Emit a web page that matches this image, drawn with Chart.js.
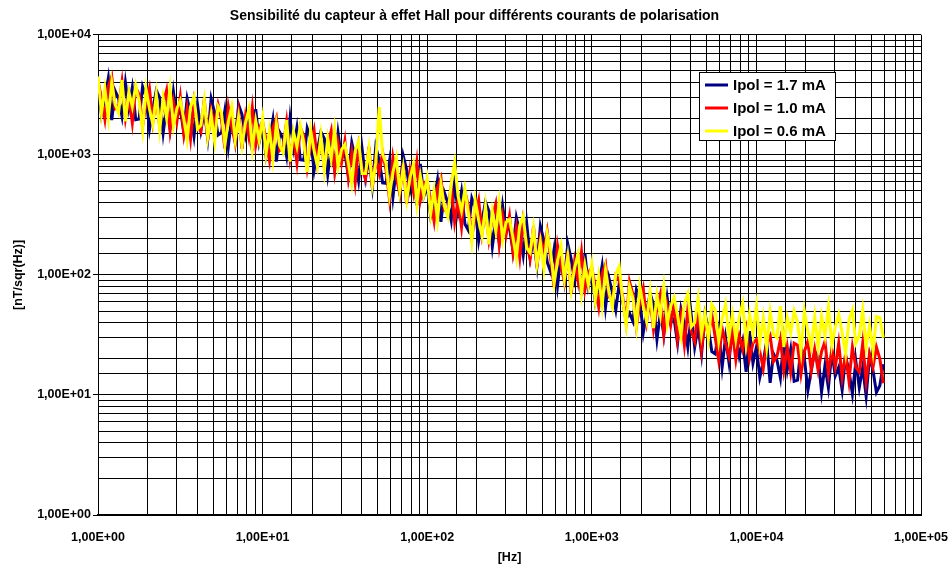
<!DOCTYPE html>
<html>
<head>
<meta charset="utf-8">
<script src="https://cdn.jsdelivr.net/npm/chart.js@4/dist/chart.umd.min.js"></script>
<style>
  body { margin: 0; background: #fff; }
  #wrap { width: 949px; height: 569px; }
</style>
</head>
<body>
<div id="wrap"><canvas id="myChart" width="949" height="569"></canvas></div>
<script>
// frequencies [Hz]
var freqs = [
  1, 1.049, 1.101, 1.155, 1.212, 1.271, 1.334, 1.399, 1.468, 1.54, 1.616, 1.695, 1.778, 1.866, 1.957, 2.054,
  2.154, 2.26, 2.371, 2.488, 2.61, 2.738, 2.873, 3.014, 3.162, 3.318, 3.481, 3.652, 3.831, 4.02, 4.217, 4.424,
  4.642, 4.87, 5.109, 5.36, 5.623, 5.9, 6.19, 6.494, 6.813, 7.148, 7.499, 7.867, 8.254, 8.66, 9.085, 9.532,
  10, 10.49, 11.01, 11.55, 12.12, 12.71, 13.34, 13.99, 14.68, 15.4, 16.16, 16.95, 17.78, 18.66, 19.57, 20.54,
  21.54, 22.6, 23.71, 24.88, 26.1, 27.38, 28.73, 30.14, 31.62, 33.18, 34.81, 36.52, 38.31, 40.2, 42.17, 44.24,
  46.42, 48.7, 51.09, 53.6, 56.23, 59, 61.9, 64.94, 68.13, 71.48, 74.99, 78.67, 82.54, 86.6, 90.85, 95.32,
  100, 104.9, 110.1, 115.5, 121.2, 127.1, 133.4, 139.9, 146.8, 154, 161.6, 169.5, 177.8, 186.6, 195.7, 205.4,
  215.4, 226, 237.1, 248.8, 261, 273.8, 287.3, 301.4, 316.2, 331.8, 348.1, 365.2, 383.1, 402, 421.7, 442.4,
  464.2, 487, 510.9, 536, 562.3, 590, 619, 649.4, 681.3, 714.8, 749.9, 786.7, 825.4, 866, 908.5, 953.2,
  1000, 1049, 1101, 1155, 1212, 1271, 1334, 1399, 1468, 1540, 1616, 1695, 1778, 1866, 1957, 2054,
  2154, 2260, 2371, 2488, 2610, 2738, 2873, 3014, 3162, 3318, 3481, 3652, 3831, 4020, 4217, 4424,
  4642, 4870, 5109, 5360, 5623, 5900, 6190, 6494, 6813, 7148, 7499, 7867, 8254, 8660, 9085, 9532,
  10000, 10490, 11010, 11550, 12120, 12710, 13340, 13990, 14680, 15400, 16160, 16950, 17780, 18660, 19570, 20540,
  21540, 22600, 23710, 24880, 26100, 27380, 28730, 30140, 31620, 33180, 34810, 36520, 38310, 40200, 42170, 44240,
  46420, 48700, 51090, 53600, 56230, 59000
];

// nT/sqrt(Hz), Ipol = 1.7 mA
var ipol17 = [
  3880, 2170, 2950, 4340, 1950, 3410, 2940, 2100, 4000, 2460, 3640, 1960,
  1990, 3700, 3060, 1630, 2420, 3440, 2990, 1520, 2530, 1660, 3340, 2070,
  2420, 1550, 2940, 2210, 1430, 2630, 1600, 2340, 1370, 2930, 2240, 1460,
  1530, 2340, 1170, 2070, 1300, 2610, 2160, 1440, 1920, 1090, 2400, 1280,
  1750, 980, 1330, 1960, 880, 1540, 1370, 975, 2020, 1140, 1690, 910,
  900, 1670, 1380, 740, 1090, 1550, 1370, 690, 1160, 760, 1520, 945,
  1040, 665, 1260, 945, 610, 1125, 640, 935, 545, 1170, 900, 585,
  580, 885, 440, 780, 490, 985, 755, 505, 670, 380, 840, 450,
  550, 310, 420, 615, 277, 485, 400, 285, 590, 335, 495, 265,
  235, 435, 360, 192, 285, 405, 340, 172, 285, 187, 375, 235,
  247, 160, 300, 225, 146, 270, 140, 205, 119, 255, 195, 128,
  106, 163, 81, 144, 90, 181, 135, 90, 120, 68, 150, 80,
  106, 60, 81, 119, 54, 94, 71, 51, 85, 60, 43, 48,
  41, 75, 62, 33, 49, 70, 57, 29, 48, 32, 64, 40,
  43, 27, 52, 39, 25, 46, 25, 37, 22, 47, 36, 23,
  22, 34, 17, 30, 18.7, 38, 31, 21, 28, 15.6, 34, 18.4,
  25, 14, 19, 28, 12.6, 22, 19.4, 13.9, 29, 16.3, 24, 13,
  13.3, 25, 20, 10.9, 16, 23, 21, 10.6, 17.6, 11.5, 23, 14.4,
  17, 11, 21, 15.8, 10.2, 19, 11.5, 17, 9.8, 21, 16, 10.5,
  12, 18
];

// Ipol = 1.0 mA
var ipol10 = [
  4190, 2950, 1980, 3720, 4500, 2420, 2520, 4060, 2020, 3080, 1850, 3640,
  3190, 1730, 2680, 3570, 1890, 2930, 1730, 2650, 3450, 1610, 2760, 1890,
  3050, 1510, 2420, 1370, 2730, 1790, 1560, 2930, 1330, 2340, 1760, 2630,
  1980, 1130, 2520, 1710, 1260, 2250, 1120, 2080, 1410, 2480, 1200, 1680,
  1890, 1330, 900, 1680, 2030, 1090, 1170, 1890, 940, 1430, 860, 1690,
  1440, 780, 1210, 1610, 850, 1320, 790, 1210, 1580, 735, 1260, 860,
  1300, 650, 1040, 585, 1170, 765, 625, 1170, 530, 935, 700, 1050,
  750, 430, 950, 645, 475, 850, 390, 730, 490, 870, 420, 590,
  595, 420, 280, 530, 640, 345, 340, 550, 275, 420, 250, 495,
  375, 205, 315, 420, 220, 345, 195, 300, 390, 180, 310, 215,
  310, 155, 245, 140, 280, 183, 136, 255, 116, 205, 153, 230,
  138, 79, 175, 119, 88, 156, 70, 130, 88, 155, 75, 105,
  115, 81, 54, 102, 123, 66, 61, 99, 90, 66, 40, 88,
  69, 37, 58, 77, 41, 63, 35, 53, 69, 32, 55, 38,
  58, 29, 46, 26, 52, 34, 28, 52, 24, 42, 31, 47,
  30, 19.5, 36, 27, 21, 33, 19.6, 31, 24, 35, 20, 27,
  29, 23, 16.6, 27, 31, 19, 21, 29, 16, 25, 15.5, 27,
  26, 15, 23, 28, 16, 24, 16, 23, 28, 15, 24, 17,
  27, 14, 22, 13, 25, 17, 15.5, 27, 13, 22, 17, 25,
  20, 12.5
];

// Ipol = 0.6 mA
var ipol06 = [
  4500, 2230, 3570, 2020, 4030, 2640, 2240, 4200, 1900, 3360, 2520, 3780,
  2800, 1610, 3570, 2420, 1790, 3190, 1610, 2990, 2020, 3570, 1730, 2420,
  2840, 2000, 1340, 2520, 3050, 1640, 1760, 2830, 1400, 2150, 1290, 2540,
  2250, 1220, 1890, 2520, 1330, 2070, 1200, 1840, 2400, 1120, 1920, 1310,
  2030, 1010, 1610, 910, 1820, 1190, 1040, 1950, 880, 1560, 1170, 1760,
  1270, 720, 1610, 1090, 800, 1440, 735, 1370, 920, 1630, 790, 1100,
  1220, 855, 575, 1080, 1300, 700, 700, 1130, 560, 860, 2500, 1010,
  850, 460, 715, 950, 500, 780, 420, 645, 840, 390, 670, 460,
  640, 320, 505, 285, 570, 375, 305, 570, 860, 455, 340, 515,
  330, 190, 420, 285, 210, 375, 180, 340, 230, 400, 195, 275,
  290, 205, 138, 260, 310, 168, 153, 245, 122, 187, 112, 220,
  156, 85, 131, 175, 92, 144, 75, 115, 150, 70, 120, 82,
  123, 61, 98, 55, 110, 72, 54, 102, 118, 62, 38, 80,
  64, 37, 81, 55, 41, 72, 36, 68, 46, 80, 39, 55,
  65, 46, 31, 58, 70, 37, 40, 64, 32, 48, 29, 57,
  51, 28, 43, 57, 30, 47, 29, 45, 58, 27, 47, 32,
  55, 27, 44, 25, 49, 32, 30, 55, 25, 44, 33, 50,
  40, 23, 50, 34, 25, 45, 25, 45, 31, 54, 26, 37,
  47, 33, 22, 42, 51, 27, 31, 51, 25, 38, 23, 45,
  44, 30
];

var seriesNames = ['Ipol = 1.7 mA', 'Ipol = 1.0 mA', 'Ipol = 0.6 mA'];
var seriesColors = ['#000080', '#FF0000', '#FFFF00'];

var FONT = "'Liberation Sans', Arial, sans-serif";

function toPoints(values) {
  return values.map(function (v, i) { return { x: freqs[i], y: v }; });
}

function isDecade(v) {
  var e = Math.log10(v);
  return Math.abs(e - Math.round(e)) < 1e-9;
}

function sciLabel(v) {
  if (!isDecade(v)) return '';
  var n = Math.round(Math.log10(v));
  return '1,00E' + (n < 0 ? '-' : '+') + String(Math.abs(n)).padStart(2, '0');
}

// legend box drawn inside the plot, like the original
var boxLegend = {
  id: 'boxLegend',
  afterDraw: function (chart) {
    var ctx = chart.ctx;
    ctx.save();
    ctx.fillStyle = '#fff';
    ctx.fillRect(699.5, 72.5, 136, 68);
    ctx.strokeStyle = '#000';
    ctx.lineWidth = 1;
    ctx.strokeRect(699.5, 72.5, 136, 68);
    ctx.font = 'bold 15px ' + FONT;
    ctx.textBaseline = 'middle';
    ctx.textAlign = 'left';
    for (var i = 0; i < seriesNames.length; i++) {
      var y = 85 + i * 23;
      ctx.strokeStyle = seriesColors[i];
      ctx.lineWidth = 3;
      ctx.beginPath();
      ctx.moveTo(705, y);
      ctx.lineTo(728, y);
      ctx.stroke();
      ctx.fillStyle = '#000';
      ctx.fillText(seriesNames[i], 733, y + 1);
    }
    ctx.restore();
  }
};

var allSeries = [ipol17, ipol10, ipol06];

var ctx = document.getElementById('myChart').getContext('2d');
var myChart = new Chart(ctx, {
  type: 'line',
  data: {
    datasets: allSeries.map(function (vals, i) {
      return {
        label: seriesNames[i],
        data: toPoints(vals),
        borderColor: seriesColors[i],
        backgroundColor: seriesColors[i],
        borderWidth: 3,
        pointRadius: 0,
        tension: 0,
        fill: false,
        order: 3 - i
      };
    })
  },
  options: {
    responsive: false,
    animation: false,
    devicePixelRatio: 1,
    layout: { padding: 0 },
    plugins: {
      legend: { display: false },
      tooltip: { enabled: false },
      title: {
        display: true,
        text: 'Sensibilité du capteur à effet Hall pour différents courants de polarisation',
        color: '#000',
        font: { family: FONT, size: 14, weight: 'bold' },
        padding: { top: 8, bottom: 10 }
      }
    },
    scales: {
      x: {
        type: 'logarithmic',
        min: 1,
        max: 100000,
        afterFit: function (scale) {
          scale.height = 54;
          scale.paddingLeft = 0;
          scale.paddingRight = 28;
        },
        border: { color: '#000', width: 2 },
        grid: { color: '#000', lineWidth: 1, tickLength: 5, tickColor: 'rgba(0,0,0,0)' },
        ticks: {
          autoSkip: false,
          maxRotation: 0,
          padding: 10,
          color: '#000',
          font: { family: FONT, size: 12.5, weight: 'bold' },
          callback: function (v) { return sciLabel(v); }
        },
        title: {
          display: true,
          text: '[Hz]',
          color: '#000',
          font: { family: FONT, size: 12.5, weight: 'bold' },
          padding: { top: 0, bottom: 4 }
        }
      },
      y: {
        type: 'logarithmic',
        min: 1,
        max: 10000,
        afterFit: function (scale) { scale.width = 98; },
        border: { color: '#000', width: 1 },
        grid: {
          color: '#000',
          lineWidth: 1,
          tickLength: 5,
          tickColor: function (c) { return c.tick && isDecade(c.tick.value) ? '#000' : 'rgba(0,0,0,0)'; }
        },
        ticks: {
          autoSkip: false,
          padding: 2,
          color: '#000',
          font: { family: FONT, size: 12.5, weight: 'bold' },
          callback: function (v) { return sciLabel(v); }
        },
        title: {
          display: true,
          text: '[nT/sqr(Hz)]',
          color: '#000',
          font: { family: FONT, size: 12.5, weight: 'bold' },
          padding: { top: 11, bottom: 0 }
        }
      }
    }
  },
  plugins: [boxLegend]
});
</script>
</body>
</html>
